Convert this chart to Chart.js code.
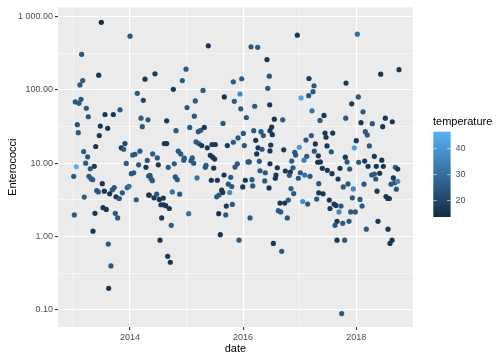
<!DOCTYPE html>
<html>
<head>
<meta charset="utf-8">
<script src="https://cdn.jsdelivr.net/npm/chart.js@4/dist/chart.umd.min.js"></script>
<style>
  html, body { margin: 0; padding: 0; background: #ffffff; }
  canvas { display: block; }
</style>
</head>
<body>
<canvas id="c" width="504" height="360"></canvas>
<script>
// ---- data ----
const dates = [
  2013.495,2014.002,2013.148,2013.449,2013.166,2013.118,2014.267,2014.131,2014.237,2013.035,
  2013.101,2013.136,2013.230,2013.265,2013.560,2013.707,2013.825,2014.196,2014.320,2013.071,
  2013.088,2013.477,2013.608,2013.459,2014.219,2013.913,2013.848,2013.890,2013.396,2013.184,
  2013.254,2014.178,2014.049,2014.090,2014.307,2013.219,2013.936,2014.155,2013.053,2013.371,
  2013.300,2014.284,2013.007,2013.277,2013.313,2013.343,2013.512,2013.413,2013.442,2013.548,
  2013.643,2013.689,2013.724,2013.754,2013.813,2013.866,2013.954,2013.984,2014.025,2014.067,
  2014.332,2014.332,2014.113,2013.194,2013.018,2013.383,2013.525,2013.583,2013.742,2013.784,
  2013.348,2013.618,2013.666,2013.625,2015.385,2014.443,2014.991,2014.926,2014.767,2015.292,
  2015.827,2015.155,2015.668,2015.845,2015.009,2015.138,2014.650,2014.815,2015.057,2015.208,
  2015.251,2015.314,2015.645,2014.608,2014.650,2015.168,2015.216,2015.269,2015.367,2015.451,
  2015.509,2015.721,2015.827,2014.855,2014.898,2014.403,2014.484,2014.961,2014.951,2015.102,
  2015.080,2015.127,2015.420,2015.463,2015.498,2014.502,2014.784,2014.678,2015.345,2015.332,
  2015.481,2015.857,2014.355,2014.373,2014.396,2014.802,2014.837,2015.186,2015.438,2015.544,
  2015.663,2015.781,2015.739,2015.799,2015.622,2015.640,2015.574,2015.534,2015.763,2014.343,
  2014.426,2014.473,2014.519,2014.590,2014.749,2014.880,2014.549,2014.597,2014.633,2014.696,
  2015.039,2015.569,2015.703,2015.693,2015.809,2014.562,2014.731,2015.597,2014.532,2014.668,
  2014.714,2016.958,2016.140,2016.258,2016.422,2016.463,2015.975,2017.164,2017.253,2017.235,
  2017.159,2017.023,2015.945,2016.435,2015.958,2016.205,2016.470,2017.217,2016.057,2016.551,
  2016.700,2017.359,2016.505,2016.475,2016.516,2016.187,2016.316,2016.357,2016.004,2015.910,
  2016.223,2017.205,2017.111,2017.276,2016.021,2016.488,2016.263,2016.334,2016.475,2016.717,
  2016.993,2016.912,2016.929,2017.258,2017.124,2017.076,2017.329,2017.318,2016.240,2016.087,
  2016.110,2016.286,2016.475,2016.859,2015.898,2016.604,2016.882,2016.299,2016.392,2016.746,
  2016.834,2016.816,2017.011,2017.088,2017.182,2016.975,2016.581,2016.569,2016.039,2016.157,
  2016.382,2015.993,2016.170,2016.458,2016.846,2016.894,2017.336,2017.336,2016.799,2016.652,
  2016.735,2017.053,2017.141,2017.300,2016.622,2016.664,2016.781,2016.122,2015.928,2016.534,
  2016.682,2018.018,2018.431,2018.754,2017.818,2018.035,2017.919,2018.118,2017.429,2017.813,
  2018.083,2018.283,2018.512,2018.636,2018.466,2017.447,2017.583,2017.465,2018.159,2018.194,
  2017.999,2017.482,2017.965,2018.230,2017.558,2017.806,2017.836,2018.042,2018.148,2018.318,
  2018.449,2017.364,2017.712,2017.883,2017.399,2017.488,2018.207,2018.353,2018.477,2018.689,
  2018.731,2017.571,2017.677,2017.770,2017.853,2017.947,2018.136,2018.272,2018.318,2018.413,
  2018.343,2018.654,2018.613,2018.678,2018.731,2018.707,2018.366,2017.412,2017.523,2017.606,
  2017.641,2017.730,2017.535,2017.694,2017.901,2017.982,2017.929,2018.065,2018.101,2018.525,
  2018.555,2018.583,2017.659,2017.624,2017.760,2017.871,2018.383,2018.177,2018.560,2017.659,
  2017.795,2018.631,2018.595,2017.742
];
const enterococci = [
  837,541,306,159,134,117,140,89.7,72.1,68.6,
  65.7,74.4,56.2,43.0,46.2,46.2,53.5,41.1,39.1,33.5,
  26.1,32.1,29.9,23.8,31.5,18.5,16.2,15.5,16.9,14.4,
  12.2,14.6,12.9,13.2,10.9,10.0,9.94,9.51,8.94,9.05,
  8.40,8.77,6.63,6.63,6.15,5.96,5.26,4.23,4.06,4.15,
  3.82,4.32,4.65,3.48,3.30,3.94,4.65,4.85,7.19,7.41,
  6.69,3.67,3.17,3.45,1.97,2.07,2.47,2.34,2.07,1.79,
  1.18,0.787,0.396,0.196,400,166,192,134,102,98.5,
  129,70.8,80.1,69.9,57.4,43.8,37.9,27.8,30.8,26.9,
  28.1,30.8,34.9,18.5,18.5,19.5,18.5,17.4,16.2,18.0,
  18.0,17.4,19.3,14.6,13.4,13.4,11.8,11.7,11.0,11.8,
  10.8,10.0,12.8,12.1,11.4,9.51,9.82,8.77,9.34,8.77,
  8.59,8.86,6.84,6.15,5.78,6.49,5.96,6.29,5.85,5.85,
  6.90,6.42,5.17,4.79,4.28,3.98,3.67,3.48,3.98,3.67,
  3.37,3.78,3.20,3.34,4.06,3.78,2.71,2.71,2.63,2.41,
  2.05,2.05,2.60,1.97,2.74,1.79,1.42,1.06,0.891,0.536,
  0.445,558,388,381,259,154,142,143,114,94.6,
  83.5,77.7,88.0,105,55.2,59.8,62.5,51.8,42.0,39.9,
  39.1,38.3,31.1,27.8,24.5,27.8,26.9,23.8,25.5,22.1,
  20.5,23.8,20.7,18.3,17.4,17.7,16.2,15.5,14.7,15.2,
  16.5,14.1,12.9,14.6,12.4,11.0,12.6,10.3,13.4,10.4,
  10.4,10.6,9.82,10.7,9.82,8.67,8.67,7.89,7.41,7.82,
  7.58,6.84,7.41,6.90,6.63,6.23,6.90,6.23,5.85,5.96,
  5.73,4.75,4.90,4.60,4.50,3.85,5.26,3.94,3.14,2.86,
  2.86,3.00,2.77,3.24,2.25,2.16,1.79,1.79,0.891,0.804,
  0.627,576,164,189,124,80.1,64.5,50.2,44.8,41.1,
  35.7,34.6,41.1,36.8,31.5,25.8,25.8,22.6,26.9,24.2,
  20.3,17.2,16.2,17.2,14.3,12.1,10.4,10.3,10.7,12.4,
  11.0,10.4,8.51,8.32,8.51,7.99,9.05,9.05,9.05,8.77,
  8.32,7.19,6.09,4.75,5.21,4.46,5.17,6.90,7.12,7.28,
  6.09,6.29,5.17,5.43,5.67,4.42,4.15,3.82,3.14,2.77,
  2.65,2.60,2.41,2.16,2.16,2.16,3.37,3.20,2.60,3.51,
  3.30,3.30,1.61,1.42,1.51,1.61,1.61,1.26,1.26,0.891,
  0.891,0.891,0.804,0.0888
];
const temperature = [
  13.7,25,25,17,25,25,17,25,21,25,
  25,25,25,25,17,17,25,25,25,25,
  25,17,17,17,25,21,17,25,17,25,
  25,25,25,25,25,25,25,25,46.5,17,
  25,17,25,25,25,25,17,25,25,17,
  17,25,25,17,25,25,25,31,25,25,
  25,17,25,25,25,17,17,17,25,25,
  17,25,25,17,17,17,25,25,17,25,
  25,25,17,25,25,25,17,25,25,25,
  25,17,25,17,17,25,25,17,17,17,
  17,17,25,25,25,25,25,25,25,25,
  25,25,17,17,17,17,25,25,25,25,
  17,25,25,25,25,25,25,31,17,17,
  17,25,25,25,17,17,25,25,37,17,
  17,25,17,17,31,25,17,17,17,17,
  31,17,17,25,25,17,25,17,17,17,
  17,17,25,25,17,25,25,17,25,25,
  25,44,37,25,25,25,17,31,25,17,
  25,25,17,17,17,25,25,25,25,25,
  17,25,25,17,25,17,17,25,17,17,
  40,25,25,25,25,34,17,17,17,25,
  25,25,17,25,25,17,25,25,25,17,
  17,25,25,31,25,25,17,17,17,25,
  25,17,25,17,25,25,25,17,25,17,
  17,37,25,25,25,25,25,25,25,17,
  25,31,17,17,17,25,17,25,17,25,
  17,25,17,17,17,17,17,17,25,25,
  17,17,42,25,25,17,25,25,17,17,
  17,17,17,25,17,17,17,17,17,25,
  17,17,17,25,25,37,25,25,25,17,
  25,17,25,25,37,25,17,17,17,17,
  17,25,17,37,25,25,25,25,25,17,
  17,17,17,25,25,25,17,25,17,17,
  25,17,17,25
];
const xTickValues = [2014, 2016, 2018];
const xGridValues = [2013, 2014, 2015, 2016, 2017, 2018];
const yTickValues = [0.1, 1, 10, 100, 1000];
const yTickLabels = ["0.10", "1.00", "10.00", "100.00", "1 000.00"];
const yGridValues = [0.1, 0.316228, 1, 3.16228, 10, 31.6228, 100, 316.228, 1000];
const legendBreaks = [20, 30, 40];
const legendTitle = "temperature";

// ---- styling ----
const FONT = "'Liberation Sans', Arial, Helvetica, sans-serif";
const LOW = [19, 43, 67], HIGH = [86, 177, 247];
const tMin = Math.min(...temperature), tMax = Math.max(...temperature);
function tempColor(t) {
  const f = (t - tMin) / (tMax - tMin);
  const c = LOW.map((v, i) => Math.round(v + (HIGH[i] - v) * f));
  return `rgb(${c[0]},${c[1]},${c[2]})`;
}
const points = dates.map((d, i) => ({ x: d, y: enterococci[i] }));
const colors = temperature.map(tempColor);

const isMajorX = v => xTickValues.includes(v);
const isMajorY = v => yTickValues.some(m => Math.abs(Math.log10(v) - Math.log10(m)) < 0.01);

const panelBg = {
  id: 'panelBg',
  beforeDraw(chart) {
    const { ctx, chartArea: a } = chart;
    ctx.save();
    ctx.fillStyle = '#EBEBEB';
    ctx.fillRect(a.left, a.top, a.right - a.left, a.bottom - a.top);
    ctx.restore();
  }
};

const extras = {
  id: 'extras',
  afterDraw(chart) {
    const { ctx, chartArea: a } = chart;
    ctx.save();
    // axis titles
    ctx.fillStyle = '#000000';
    ctx.font = `11px ${FONT}`;
    ctx.textAlign = 'center';
    ctx.textBaseline = 'middle';
    ctx.fillText('date', (a.left + a.right) / 2, 349);
    ctx.save();
    ctx.translate(13, (a.top + a.bottom) / 2);
    ctx.rotate(-Math.PI / 2);
    ctx.fillText('Enterococci', 0, 0);
    ctx.restore();
    // legend
    ctx.textAlign = 'left';
    ctx.fillText(legendTitle, 433, 121.5);
    const bx = 433.3, bw = 17.3, top = 131.7, bottom = 217;
    const grad = ctx.createLinearGradient(0, bottom, 0, top);
    for (let i = 0; i <= 20; i++) {
      const t = tMin + (tMax - tMin) * i / 20;
      grad.addColorStop(i / 20, tempColor(t));
    }
    ctx.fillStyle = grad;
    ctx.fillRect(bx, top, bw, bottom - top);
    ctx.font = `9px ${FONT}`;
    ctx.fillStyle = '#4D4D4D';
    ctx.strokeStyle = 'rgba(255,255,255,0.8)';
    ctx.lineWidth = 0.8;
    legendBreaks.forEach(b => {
      const y = bottom - (b - tMin) / (tMax - tMin) * (bottom - top);
      ctx.beginPath();
      ctx.moveTo(bx, y); ctx.lineTo(bx + bw / 5, y);
      ctx.moveTo(bx + bw - bw / 5, y); ctx.lineTo(bx + bw, y);
      ctx.stroke();
      ctx.fillText(String(b), 455.5, y);
    });
    ctx.restore();
  }
};

new Chart(document.getElementById('c'), {
  type: 'scatter',
  data: {
    datasets: [{
      data: points,
      backgroundColor: colors,
      borderWidth: 0,
      pointRadius: 2.6,
      pointHoverRadius: 2.6
    }]
  },
  options: {
    responsive: false,
    animation: false,
    devicePixelRatio: 1,
    layout: { padding: { top: 5, right: 91.3, left: 0, bottom: 0 } },
    plugins: { legend: { display: false }, tooltip: { enabled: false } },
    scales: {
      x: {
        type: 'linear',
        min: 2012.73,
        max: 2018.996,
        afterBuildTicks: s => { s.ticks = xGridValues.map(v => ({ value: v })); },
        afterFit: s => { s.height = 33; },
        border: { display: false },
        grid: {
          color: '#FFFFFF',
          lineWidth: c => (c.tick && isMajorX(c.tick.value)) ? 1.1 : 0.55,
          tickColor: c => (c.tick && isMajorX(c.tick.value)) ? '#333333' : 'rgba(0,0,0,0)',
          tickWidth: 1.1,
          tickLength: 3
        },
        ticks: {
          autoSkip: false,
          maxRotation: 0,
          padding: 2,
          color: '#4D4D4D',
          font: { family: FONT, size: 9 },
          callback: v => isMajorX(v) ? String(v) : ''
        }
      },
      y: {
        type: 'logarithmic',
        min: 0.0582,
        max: 1336,
        afterBuildTicks: s => { s.ticks = yGridValues.map(v => ({ value: v })); },
        afterFit: s => { s.width = 58; },
        border: { display: false },
        grid: {
          color: '#FFFFFF',
          lineWidth: c => (c.tick && isMajorY(c.tick.value)) ? 1.1 : 0.55,
          tickColor: c => (c.tick && isMajorY(c.tick.value)) ? '#333333' : 'rgba(0,0,0,0)',
          tickWidth: 1.1,
          tickLength: 3
        },
        ticks: {
          autoSkip: false,
          padding: 2,
          color: '#4D4D4D',
          font: { family: FONT, size: 9 },
          callback: v => {
            const i = yTickValues.findIndex(m => Math.abs(Math.log10(v) - Math.log10(m)) < 0.01);
            return i >= 0 ? yTickLabels[i] : '';
          }
        }
      }
    }
  },
  plugins: [panelBg, extras]
});
</script>
</body>
</html>
